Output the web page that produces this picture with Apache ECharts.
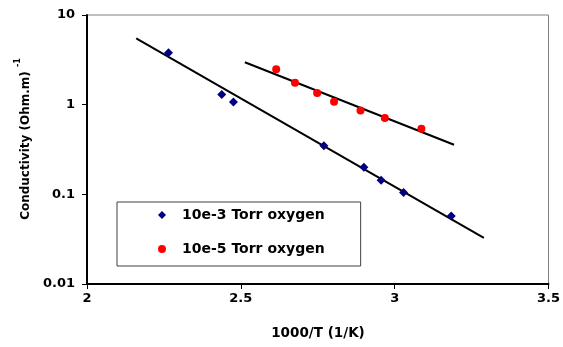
<!DOCTYPE html>
<html>
<head>
<meta charset="utf-8">
<script src="https://cdn.jsdelivr.net/npm/echarts@6/dist/echarts.min.js"></script>
<style>
  html, body { margin: 0; padding: 0; background: #fff; }
  #chart { width: 563px; height: 347px; }
</style>
</head>
<body>
<div id="chart"></div>
<script>
// Conductivity vs inverse temperature at two oxygen pressures
const seriesNames = ['10e-3 Torr oxygen', '10e-5 Torr oxygen'];

// 10e-3 Torr oxygen measurements
const invTempA = [2.265, 2.438, 2.476, 2.770, 2.900, 2.956, 3.029, 3.184];
const condA    = [3.79, 1.30, 1.07, 0.348, 0.201, 0.144, 0.105, 0.0575];

// 10e-5 Torr oxygen measurements
const invTempB = [2.615, 2.676, 2.748, 2.803, 2.889, 2.968, 3.087];
const condB    = [2.49, 1.76, 1.35, 1.08, 0.863, 0.708, 0.538];

// Fitted Arrhenius lines (end points)
const fitAX = [2.16, 3.29];
const fitAY = [5.49, 0.0327];
const fitBX = [2.513, 3.193];
const fitBY = [2.97, 0.357];

// Axis tick labels
const xTicks = ['2', '2.5', '3', '3.5'];
const yTicks = ['0.01', '0.1', '1', '10'];

const zip = (xs, ys) => xs.map((x, i) => [x, ys[i]]);
const FONT = 'DejaVu Sans';

const chart = echarts.init(document.getElementById('chart'), null, { renderer: 'canvas' });

chart.setOption({
  animation: false,
  backgroundColor: '#ffffff',
  grid: {
    left: 87, top: 15, right: 12, bottom: 63,
    show: true, borderColor: '#808080', borderWidth: 1, backgroundColor: 'transparent'
  },
  xAxis: {
    type: 'value', min: 2, max: 3.5, interval: 0.5,
    axisLine: { show: true, lineStyle: { color: '#000', width: 2 } },
    axisTick: { show: true, length: 5, lineStyle: { color: '#000', width: 1 } },
    splitLine: { show: false },
    axisLabel: {
      margin: 8, color: '#000', fontFamily: FONT, fontWeight: 'bold', fontSize: 13,
      formatter: v => xTicks[Math.round((v - 2) / 0.5)] ?? ''
    }
  },
  yAxis: {
    type: 'log', logBase: 10, min: 0.01, max: 10,
    axisLine: { show: true, lineStyle: { color: '#000', width: 2 } },
    axisTick: { show: true, length: 5, lineStyle: { color: '#000', width: 1 } },
    minorTick: { show: false },
    splitLine: { show: false },
    axisLabel: {
      margin: 12, color: '#000', fontFamily: FONT, fontWeight: 'bold', fontSize: 13,
      formatter: v => yTicks[Math.round(Math.log10(v) + 2)] ?? ''
    }
  },
  legend: {
    data: [
      { name: seriesNames[0], icon: 'diamond' },
      { name: seriesNames[1], icon: 'circle' }
    ],
    orient: 'vertical',
    left: 117, top: 202,
    padding: [6, 36, 10, 41],
    itemGap: 20,
    itemWidth: 8, itemHeight: 8,
    borderColor: '#404040', borderWidth: 1,
    backgroundColor: '#fff',
    textStyle: {
      color: '#000', fontFamily: FONT, fontWeight: 'bold', fontSize: 14,
      padding: [0, 0, 0, 11]
    }
  },
  graphic: [
    {
      type: 'text', x: 23, y: 139, rotation: Math.PI / 2,
      style: {
        text: '{a|Conductivity (Ohm.m) }{b|-1}',
        align: 'center', verticalAlign: 'middle',
        rich: {
          a: { fontFamily: FONT, fontWeight: 'bold', fontSize: 12, fill: '#000', lineHeight: 18, verticalAlign: 'bottom' },
          b: { fontFamily: FONT, fontWeight: 'bold', fontSize: 8, fill: '#000', lineHeight: 18, verticalAlign: 'top' }
        }
      }
    },
    {
      type: 'text', x: 318, y: 333,
      style: {
        text: '1000/T (1/K)', fill: '#000',
        font: 'bold 13.5px "DejaVu Sans"',
        align: 'center', verticalAlign: 'middle'
      }
    }
  ],
  series: [
    {
      name: 'fitA', type: 'line', data: zip(fitAX, fitAY), symbol: 'none',
      lineStyle: { color: '#000', width: 2 }, z: 2, silent: true
    },
    {
      name: 'fitB', type: 'line', data: zip(fitBX, fitBY), symbol: 'none',
      lineStyle: { color: '#000', width: 2 }, z: 2, silent: true
    },
    {
      name: seriesNames[0], type: 'scatter', data: zip(invTempA, condA),
      symbol: 'diamond', symbolSize: 9, itemStyle: { color: '#000080', opacity: 1 }, z: 3
    },
    {
      name: seriesNames[1], type: 'scatter', data: zip(invTempB, condB),
      symbol: 'circle', symbolSize: 8, itemStyle: { color: '#ff0000', opacity: 1 }, z: 3
    }
  ]
});
</script>
</body>
</html>
